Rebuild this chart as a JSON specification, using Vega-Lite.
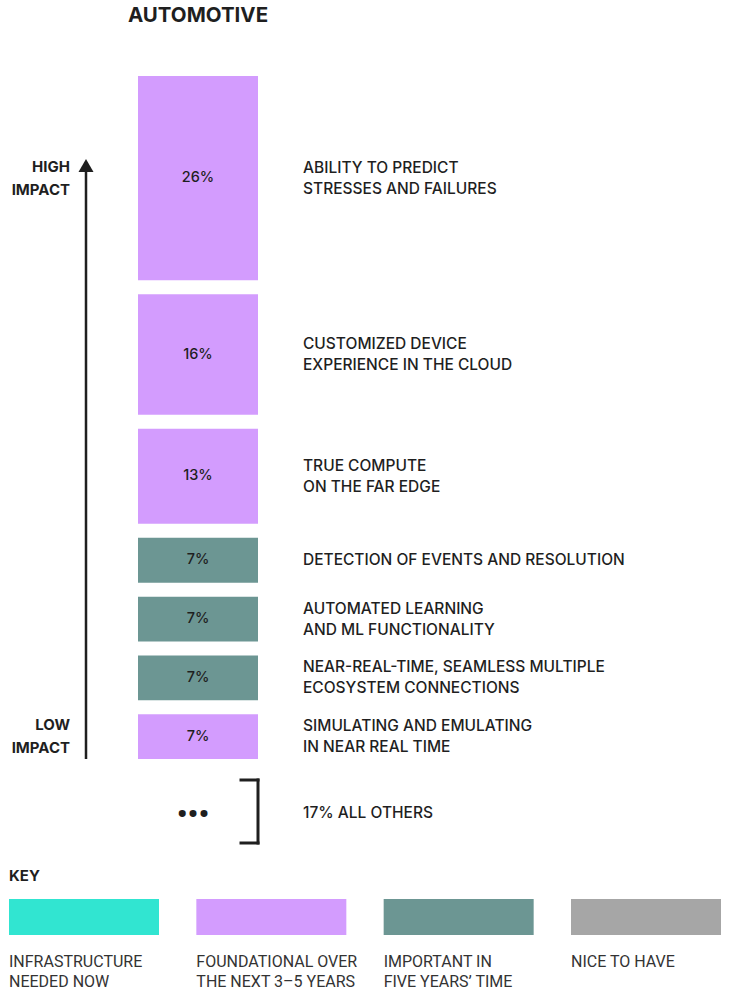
{
  "$schema": "https://vega.github.io/schema/vega-lite/v6.json",
  "padding": {"left": 9, "top": 5, "right": 0, "bottom": 0},
  "spacing": 0,
  "config": {"view": {"stroke": null}, "font": "Roboto"},
  "datasets": {
    "items": [
      {"rank": 1, "label": "ABILITY TO PREDICT\nSTRESSES AND FAILURES", "share": 0.26, "category": "FOUNDATIONAL OVER\nTHE NEXT 3–5 YEARS"},
      {"rank": 2, "label": "CUSTOMIZED DEVICE\nEXPERIENCE IN THE CLOUD", "share": 0.16, "category": "FOUNDATIONAL OVER\nTHE NEXT 3–5 YEARS"},
      {"rank": 3, "label": "TRUE COMPUTE\nON THE FAR EDGE", "share": 0.13, "category": "FOUNDATIONAL OVER\nTHE NEXT 3–5 YEARS"},
      {"rank": 4, "label": "DETECTION OF EVENTS AND RESOLUTION", "share": 0.07, "category": "IMPORTANT IN\nFIVE YEARS’ TIME"},
      {"rank": 5, "label": "AUTOMATED LEARNING\nAND ML FUNCTIONALITY", "share": 0.07, "category": "IMPORTANT IN\nFIVE YEARS’ TIME"},
      {"rank": 6, "label": "NEAR-REAL-TIME, SEAMLESS MULTIPLE\nECOSYSTEM CONNECTIONS", "share": 0.07, "category": "IMPORTANT IN\nFIVE YEARS’ TIME"},
      {"rank": 7, "label": "SIMULATING AND EMULATING\nIN NEAR REAL TIME", "share": 0.07, "category": "FOUNDATIONAL OVER\nTHE NEXT 3–5 YEARS"}
    ],
    "others": [
      {"label": "17% ALL OTHERS", "share": 0.17}
    ],
    "key": [
      {"category": "INFRASTRUCTURE\nNEEDED NOW"},
      {"category": "FOUNDATIONAL OVER\nTHE NEXT 3–5 YEARS"},
      {"category": "IMPORTANT IN\nFIVE YEARS’ TIME"},
      {"category": "NICE TO HAVE"}
    ]
  },
  "vconcat": [
    {
      "width": 712,
      "height": 697,
      "title": {"text": "AUTOMOTIVE", "anchor": "start", "align": "center", "dx": 189, "fontSize": 20.5, "fontWeight": "bold", "color": "#1f1f1f", "offset": 43, "font": "Inter"},
      "data": {"name": "items"},
      "transform": [
        {"stack": "share", "groupby": [], "sort": [{"field": "rank", "order": "ascending"}], "as": ["s0", "s1"]},
        {"calculate": "(datum.s0 + datum.s1) / 2", "as": "mid"}
      ],
      "layer": [
        {
          "mark": {"type": "rect", "yOffset": 7, "y2Offset": -7},
          "encoding": {
            "x": {"value": 129},
            "x2": {"value": 249},
            "y": {"field": "s0", "type": "quantitative", "scale": {"domain": [0, 0.83], "reverse": true, "nice": false, "zero": false}, "axis": null},
            "y2": {"field": "s1"},
            "color": {
              "field": "category", "type": "nominal",
              "scale": {
                "domain": ["INFRASTRUCTURE\nNEEDED NOW", "FOUNDATIONAL OVER\nTHE NEXT 3–5 YEARS", "IMPORTANT IN\nFIVE YEARS’ TIME", "NICE TO HAVE"],
                "range": ["#31E5D1", "#D39CFE", "#6C9693", "#A6A6A6"]
              },
              "legend": null
            }
          }
        },
        {
          "mark": {"type": "text", "fontSize": 14.5, "fontWeight": 500, "font": "Inter", "color": "#1f1f1f", "baseline": "middle"},
          "encoding": {
            "x": {"value": 189},
            "y": {"field": "mid", "type": "quantitative"},
            "text": {"field": "share", "type": "quantitative", "format": ".0%"}
          }
        },
        {
          "transform": [{"filter": "indexof(datum.label, '\\n') >= 0"}],
          "mark": {"type": "text", "fontSize": 15.5, "fontWeight": 500, "font": "Inter", "color": "#1f1f1f", "align": "left", "baseline": "middle", "lineBreak": "\n", "lineHeight": 21, "dy": -10.5},
          "encoding": {
            "x": {"value": 294},
            "y": {"field": "mid", "type": "quantitative"},
            "text": {"field": "label", "type": "nominal"}
          }
        },
        {
          "transform": [{"filter": "indexof(datum.label, '\\n') < 0"}],
          "mark": {"type": "text", "fontSize": 15.5, "fontWeight": 500, "font": "Inter", "color": "#1f1f1f", "align": "left", "baseline": "middle"},
          "encoding": {
            "x": {"value": 294},
            "y": {"field": "mid", "type": "quantitative"},
            "text": {"field": "label", "type": "nominal"}
          }
        },
        {
          "transform": [{"filter": "datum.rank == 1"}],
          "mark": {"type": "text", "text": "HIGH\nIMPACT", "fontSize": 15, "fontWeight": "bold", "font": "Inter", "color": "#1f1f1f", "align": "right", "baseline": "middle", "lineBreak": "\n", "lineHeight": 23, "dy": -11.5},
          "encoding": {
            "x": {"value": 61},
            "y": {"field": "mid", "type": "quantitative"}
          }
        },
        {
          "transform": [{"filter": "datum.rank == 7"}],
          "mark": {"type": "text", "text": "LOW\nIMPACT", "fontSize": 15, "fontWeight": "bold", "font": "Inter", "color": "#1f1f1f", "align": "right", "baseline": "middle", "lineBreak": "\n", "lineHeight": 23, "dy": -11.5},
          "encoding": {
            "x": {"value": 61},
            "y": {"field": "mid", "type": "quantitative"}
          }
        },
        {
          "transform": [{"filter": "datum.rank == 7"}],
          "mark": {"type": "rule", "strokeWidth": 2.5, "color": "#1f1f1f", "yOffset": -7},
          "encoding": {
            "x": {"value": 77},
            "y": {"field": "s1", "type": "quantitative"},
            "y2": {"datum": 0.1149}
          }
        },
        {
          "transform": [{"filter": "datum.rank == 1"}],
          "mark": {"type": "point", "shape": "M0,-0.87L1,0.87L-1,0.87Z", "size": 225, "filled": true, "opacity": 1, "color": "#1f1f1f"},
          "encoding": {
            "x": {"value": 77},
            "y": {"datum": 0.1149}
          }
        }
      ]
    },
    {
      "width": 712,
      "height": 90,
      "data": {"name": "others"},
      "layer": [
        {
          "mark": {"type": "rule", "strokeWidth": 3, "color": "#1f1f1f", "strokeCap": "square"},
          "encoding": {"x": {"value": 249}, "y": {"value": 14}, "y2": {"value": 77}}
        },
        {
          "mark": {"type": "rule", "strokeWidth": 3, "color": "#1f1f1f", "strokeCap": "square"},
          "encoding": {"x": {"value": 232}, "x2": {"value": 249}, "y": {"value": 14}}
        },
        {
          "mark": {"type": "rule", "strokeWidth": 3, "color": "#1f1f1f", "strokeCap": "square"},
          "encoding": {"x": {"value": 232}, "x2": {"value": 249}, "y": {"value": 77}}
        },
        {
          "mark": {"type": "text", "text": "•••", "fontSize": 30, "fontWeight": "bold", "color": "#1f1f1f", "align": "center", "baseline": "middle"},
          "encoding": {"x": {"value": 184}, "y": {"value": 49}}
        },
        {
          "mark": {"type": "text", "fontSize": 15.5, "fontWeight": 500, "font": "Inter", "color": "#1f1f1f", "align": "left", "baseline": "middle"},
          "encoding": {"x": {"value": 294}, "y": {"value": 47}, "text": {"field": "label", "type": "nominal"}}
        }
      ]
    },
    {
      "width": 712,
      "height": 149,
      "layer": [
        {
          "data": {"values": [{"t": "KEY"}]},
          "mark": {"type": "text", "fontSize": 15, "fontWeight": "bold", "font": "Inter", "color": "#1f1f1f", "align": "left", "baseline": "middle"},
          "encoding": {"x": {"value": 0}, "y": {"value": 20}, "text": {"field": "t", "type": "nominal"}}
        },
        {
          "data": {"name": "key"},
          "mark": {"type": "rect"},
          "encoding": {
            "x": {"field": "category", "type": "nominal", "scale": {"type": "band", "domain": ["INFRASTRUCTURE\nNEEDED NOW", "FOUNDATIONAL OVER\nTHE NEXT 3–5 YEARS", "IMPORTANT IN\nFIVE YEARS’ TIME", "NICE TO HAVE"], "paddingInner": 0.1993, "paddingOuter": 0}, "axis": null},
            "y": {"value": 43},
            "y2": {"value": 79},
            "color": {
              "field": "category", "type": "nominal",
              "scale": {
                "domain": ["INFRASTRUCTURE\nNEEDED NOW", "FOUNDATIONAL OVER\nTHE NEXT 3–5 YEARS", "IMPORTANT IN\nFIVE YEARS’ TIME", "NICE TO HAVE"],
                "range": ["#31E5D1", "#D39CFE", "#6C9693", "#A6A6A6"]
              },
              "legend": null
            }
          }
        },
        {
          "data": {"name": "key"},
          "mark": {"type": "text", "fontSize": 16, "color": "#333333", "align": "left", "baseline": "alphabetic", "lineBreak": "\n", "lineHeight": 20},
          "encoding": {
            "x": {"field": "category", "type": "nominal", "bandPosition": 0},
            "y": {"value": 110.7},
            "text": {"field": "category", "type": "nominal"}
          }
        }
      ]
    }
  ]
}
